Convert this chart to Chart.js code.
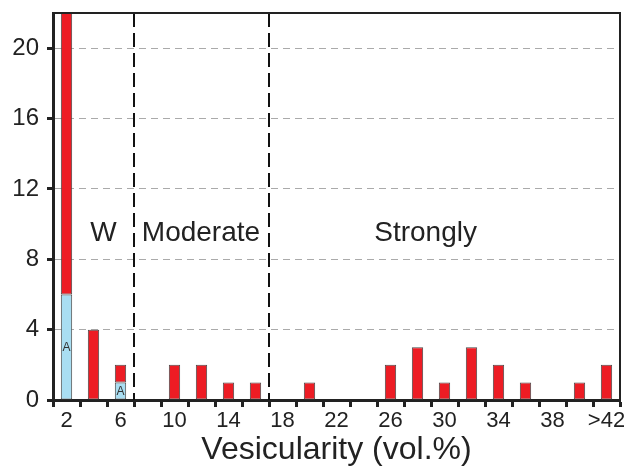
<!DOCTYPE html>
<html>
<head>
<meta charset="utf-8">
<script src="https://cdn.jsdelivr.net/npm/chart.js@4/dist/chart.umd.min.js"></script>
<style>
  html, body { margin: 0; padding: 0; background: #fff; }
  #wrap { width: 624px; height: 467px; }
</style>
</head>
<body>
<div id="wrap"><canvas id="myChart"></canvas></div>
<script>
// 데이터
const categories = ['2', '4', '6', '8', '10', '12', '14', '16', '18', '20', '22',
                    '24', '26', '28', '30', '32', '34', '36', '38', '40', '>42'];
const blueCounts = [6, 0, 1, 0, 0, 0, 0, 0, 0, 0, 0, 0, 0, 0, 0, 0, 0, 0, 0, 0, 0];
const redCounts  = [16, 4, 1, 0, 2, 2, 1, 1, 0, 1, 0, 0, 2, 3, 1, 3, 2, 1, 0, 1, 2];
const blueTags   = ['A', '', 'A', '', '', '', '', '', '', '', '', '', '', '', '', '', '', '', '', '', ''];
const yTicks = [0, 4, 8, 12, 16, 20];
const regionNames = ['W', 'Moderate', 'Strongly'];

const FONT = '"Liberation Sans", Arial, Helvetica, sans-serif';

// 구역 경계선 + 글자
const regionPlugin = {
    id: 'regions',
    afterDatasetsDraw(chart) {
        const { ctx, chartArea: a, scales: { x, y } } = chart;
        const step = x.getPixelForValue(1) - x.getPixelForValue(0);

        // 경계 (6|8, 16|18)
        ctx.save();
        ctx.strokeStyle = '#111';
        ctx.lineWidth = 2;
        ctx.setLineDash([14, 6]);
        [2, 7].forEach(i => {
            const px = Math.round(x.getPixelForValue(i) + step / 2);
            ctx.beginPath();
            ctx.moveTo(px, a.top);
            ctx.lineTo(px, a.bottom);
            ctx.stroke();
        });
        ctx.restore();

        // 구역 이름
        const where = [1.37, 4.98, 13.3];
        ctx.save();
        ctx.fillStyle = '#222';
        ctx.font = '28px ' + FONT;
        ctx.textAlign = 'center';
        ctx.textBaseline = 'middle';
        regionNames.forEach((t, i) => {
            const px = x.getPixelForValue(0) + where[i] * step;
            ctx.fillText(t, px, y.getPixelForValue(9.5));
        });
        ctx.restore();

        // 'A' 표시
        const meta = chart.getDatasetMeta(0);
        ctx.save();
        ctx.fillStyle = '#333';
        ctx.font = '12px ' + FONT;
        ctx.textAlign = 'center';
        ctx.textBaseline = 'middle';
        meta.data.forEach((bar, i) => {
            if (!blueTags[i]) return;
            ctx.fillText(blueTags[i], bar.x, (bar.y + bar.base) / 2 + 1);
        });
        ctx.restore();

        // 위/오른쪽 테두리
        ctx.save();
        ctx.strokeStyle = '#222';
        ctx.lineWidth = 2;
        ctx.beginPath();
        ctx.moveTo(a.left, a.top);
        ctx.lineTo(a.right, a.top);
        ctx.lineTo(a.right, a.bottom);
        ctx.stroke();
        ctx.restore();
    }
};

const data = {
    labels: categories,
    datasets: [{
        label: 'A',
        data: blueCounts,
        backgroundColor: '#a9def2',
        borderColor: '#4a4a4a',
        borderWidth: 1,
        borderSkipped: false,
        barPercentage: 0.42,
        categoryPercentage: 1
    }, {
        label: 'all',
        data: redCounts,
        backgroundColor: '#ed1c24',
        borderColor: '#4a4a4a',
        borderWidth: 1,
        borderSkipped: false,
        barPercentage: 0.42,
        categoryPercentage: 1
    }]
};

const config = {
    type: 'bar',
    data: data,
    options: {
        responsive: true,
        maintainAspectRatio: false,
        animation: false,
        layout: { padding: { top: 13, right: 4, left: 0, bottom: 0 } },
        plugins: {
            legend: { display: false },
            tooltip: { enabled: false }
        },
        scales: {
            x: {
                stacked: true,
                offset: true,
                afterFit: s => { s.height = 67; s.paddingLeft = 0; s.paddingRight = 0; },
                grid: {
                    offset: true,
                    drawOnChartArea: false,
                    tickLength: 7,
                    tickColor: '#222',
                    tickWidth: 3
                },
                border: { color: '#222', width: 3 },
                ticks: {
                    autoSkip: false,
                    maxRotation: 0,
                    padding: 1,
                    color: '#222',
                    font: { family: FONT, size: 22 },
                    callback: (v, i) => (i % 2 === 0 ? categories[i] : '')
                },
                title: {
                    display: true,
                    text: 'Vesicularity (vol.%)',
                    color: '#222',
                    padding: { top: 0, bottom: -2 },
                    font: { family: FONT, size: 32 }
                }
            },
            y: {
                stacked: true,
                min: 0,
                max: 22,
                afterFit: s => { s.width = 53; s.paddingTop = 0; s.paddingBottom = 0; },
                afterBuildTicks: s => { s.ticks = yTicks.map(v => ({ value: v })); },
                grid: {
                    color: c => (c.tick && c.tick.value === 0 ? 'rgba(0,0,0,0)' : '#aaaaaa'),
                    lineWidth: 1,
                    tickLength: 6,
                    tickColor: '#222',
                    tickWidth: 3,
                    tickBorderDash: []
                },
                border: { color: '#222', width: 3, dash: [7, 5] },
                ticks: {
                    padding: 8,
                    color: '#222',
                    font: { family: FONT, size: 24 }
                }
            }
        }
    },
    plugins: [regionPlugin]
};

const myChart = new Chart(document.getElementById('myChart'), config);
</script>
</body>
</html>
